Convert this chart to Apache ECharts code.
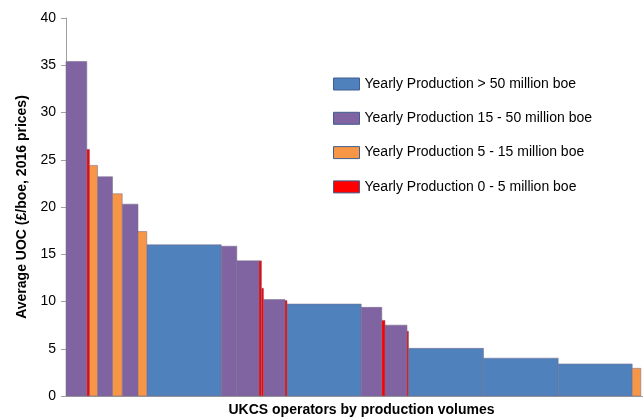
<!DOCTYPE html>
<html><head><meta charset="utf-8">
<script src="https://cdn.jsdelivr.net/npm/echarts@6/dist/echarts.min.js"></script>
<style>html,body{margin:0;padding:0;background:#fff}#c{width:643px;height:419px}</style>
</head><body><div id="c"></div>
<script>
// Groups (legend entries)
const groupNames = ['Yearly Production > 50 million boe', 'Yearly Production 15 - 50 million boe', 'Yearly Production 5 - 15 million boe', 'Yearly Production 0 - 5 million boe'];
const groupColors = ['#4f81bd', '#8064a2', '#f79646', '#ff0000'];
// Operators, in order of the x axis
const barGroup = [1, 3, 2, 1, 2, 1, 2, 0, 1, 1, 3, 3, 1, 3, 0, 1, 3, 1, 3, 0, 0, 0, 2];
const barVolume = [20.8, 2.7, 8, 15, 9.7, 15.8, 8.8, 74.4, 15.6, 22.2, 2.5, 2, 21.5, 2, 74.2, 20.6, 3.2, 22, 1.5, 75, 74.7, 74, 8.6];
const barUOC = [35.4, 26.1, 24.4, 23.2, 21.4, 20.3, 17.4, 16.0, 15.85, 14.3, 14.3, 11.4, 10.2, 10.1, 9.73, 9.38, 8.0, 7.5, 6.85, 5.04, 4.0, 3.39, 2.93];
const xMax = 577;
const yMin = 0, yMax = 40, yStep = 5;

const chart = echarts.init(document.getElementById('c'), null, {renderer: 'canvas'});
const font = '"Liberation Sans", Arial, sans-serif';

// build per-group data [start, end, uoc]
let cum = 0;
const groupData = groupNames.map(() => []);
for (let i = 0; i < barVolume.length; i++) {
  groupData[barGroup[i]].push([cum, cum + barVolume[i], barUOC[i]]);
  cum += barVolume[i];
}

function renderItem(params, api) {
  const p0 = api.coord([api.value(0), api.value(2)]);
  const p1 = api.coord([api.value(1), 0]);
  return {
    type: 'rect',
    shape: {x: p0[0], y: p0[1], width: p1[0] - p0[0], height: p1[1] - p0[1]},
    style: {fill: api.visual('color'), stroke: 'rgba(120,110,140,0.55)', lineWidth: 1}
  };
}

const series = groupNames.map((name, g) => ({
  type: 'custom',
  name: name,
  renderItem: renderItem,
  encode: {x: [0, 1], y: 2},
  itemStyle: {color: groupColors[g]},
  data: groupData[g]
}));

chart.setOption({
  animation: false,
  backgroundColor: '#fff',
  grid: {left: 66, right: 0, top: 18, bottom: 23, containLabel: false, outerBoundsMode: 'none'},
  legend: {
    orient: 'vertical', left: 328, top: 72,
    itemWidth: 26, itemHeight: 12, itemGap: 20.3,
    icon: 'rect',
    itemStyle: {borderColor: '#3f5f8f', borderWidth: 1},
    textStyle: {fontFamily: font, fontSize: 14, color: '#000'},
    data: groupNames
  },
  xAxis: {
    type: 'value', min: 0, max: xMax,
    name: 'UKCS operators by production volumes',
    nameLocation: 'middle', nameGap: 7,
    nameTextStyle: {fontFamily: font, fontSize: 14, fontWeight: 'bold', color: '#000', padding: [0, 0, 0, 14]},
    axisLine: {show: true, lineStyle: {color: '#a0a0a0', width: 1}},
    axisTick: {show: false}, axisLabel: {show: false}, splitLine: {show: false}
  },
  yAxis: {
    type: 'value', min: yMin, max: yMax, interval: yStep,
    name: 'Average UOC (£/boe, 2016 prices)',
    nameLocation: 'middle', nameGap: 37,
    nameTextStyle: {fontFamily: font, fontSize: 14, fontWeight: 'bold', color: '#000'},
    axisLine: {show: true, lineStyle: {color: '#a0a0a0', width: 1}},
    axisTick: {show: true, inside: false, length: 5, lineStyle: {color: '#a0a0a0'}},
    axisLabel: {fontFamily: font, fontSize: 14, color: '#000', margin: 10},
    splitLine: {show: false}
  },
  series: series
});
</script></body></html>
